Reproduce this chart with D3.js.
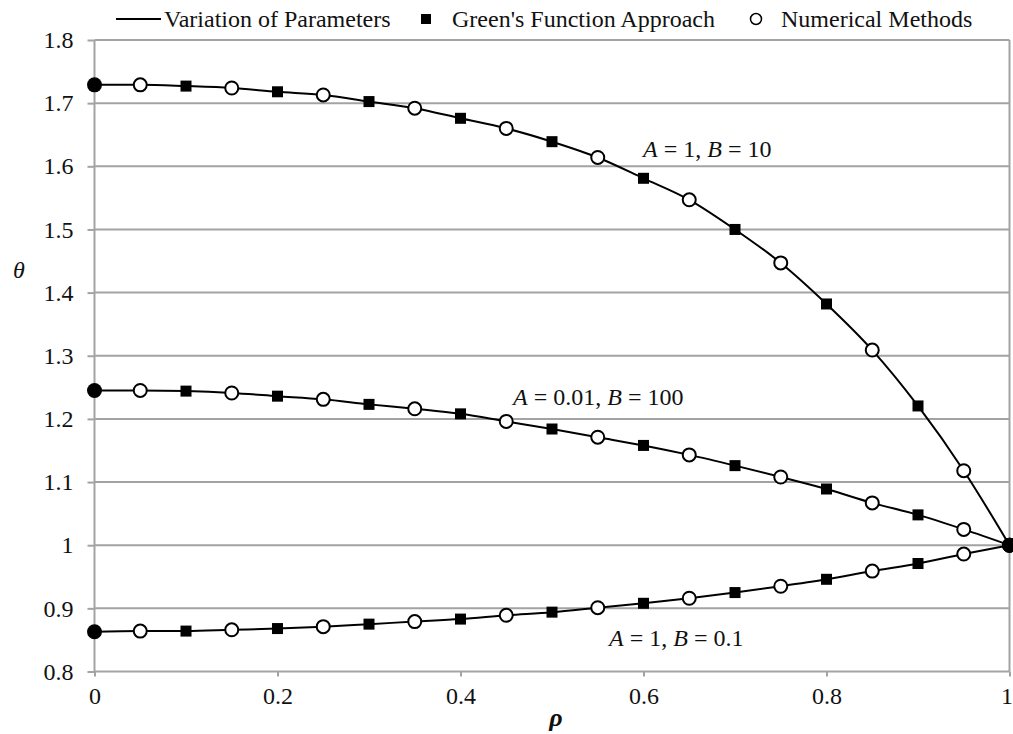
<!DOCTYPE html>
<html>
<head>
<meta charset="utf-8">
<script src="https://cdn.jsdelivr.net/npm/d3@7"></script>
<style>
  html, body { margin: 0; padding: 0; background: #fff; }
  svg { display: block; }
  svg text { font-family: "Liberation Serif", "Tinos", "Times New Roman", "DejaVu Serif", serif; }
</style>
</head>
<body>
<svg id="chart" width="1013" height="734"></svg>
<script>
// ---- data ----
const rho = [0, 0.05, 0.1, 0.15, 0.2, 0.25, 0.3, 0.35, 0.4, 0.45, 0.5,
             0.55, 0.6, 0.65, 0.7, 0.75, 0.8, 0.85, 0.9, 0.95, 1];
const thetaA1B10 = [1.729, 1.729, 1.727, 1.724, 1.718, 1.713, 1.7025, 1.692, 1.676, 1.660, 1.639,
                    1.614, 1.581, 1.547, 1.500, 1.447, 1.382, 1.309, 1.2205, 1.118, 1.0];
const thetaA001B100 = [1.245, 1.245, 1.244, 1.241, 1.236, 1.231, 1.223, 1.216, 1.208, 1.196, 1.184,
                       1.171, 1.158, 1.143, 1.126, 1.108, 1.089, 1.067, 1.048, 1.025, 1.0];
const thetaA1B01 = [0.863, 0.864, 0.864, 0.866, 0.868, 0.871, 0.875, 0.879, 0.883, 0.889, 0.894,
                    0.901, 0.908, 0.916, 0.925, 0.935, 0.946, 0.959, 0.971, 0.986, 1.0];
const seriesLabels = ["A = 1, B = 10", "A = 0.01, B = 100", "A = 1, B = 0.1"];
const greensRho = [0.1, 0.2, 0.3, 0.4, 0.5, 0.6, 0.7, 0.8, 0.9];
const numericalRho = [0.05, 0.15, 0.25, 0.35, 0.45, 0.55, 0.65, 0.75, 0.85, 0.95];
const boundaryRho = [0, 1];
const xTicks = [0, 0.2, 0.4, 0.6, 0.8, 1];
const yTicks = [0.8, 0.9, 1, 1.1, 1.2, 1.3, 1.4, 1.5, 1.6, 1.7, 1.8];
const legendItems = ["Variation of Parameters", "Green's Function Approach", "Numerical Methods"];

// ---- layout ----
const svg = d3.select("#chart");
const x = d3.scaleLinear().domain([0, 1]).range([94.5, 1009.5]);
const y = d3.scaleLinear().domain([0.8, 1.8]).range([671.5, 40]);
const gridColor = "#a3a3a3";
const fmt = d => String(+d.toFixed(1));

// horizontal gridlines
svg.append("g").selectAll("line").data(yTicks).join("line")
  .attr("x1", x(0)).attr("x2", x(1))
  .attr("y1", d => y(d)).attr("y2", d => y(d))
  .attr("stroke", gridColor).attr("stroke-width", 2);

// left & right vertical borders
svg.append("g").selectAll("line").data([0, 1]).join("line")
  .attr("x1", d => x(d)).attr("x2", d => x(d))
  .attr("y1", y(1.8)).attr("y2", y(0.8))
  .attr("stroke", gridColor).attr("stroke-width", 2);

// y axis
const yAxis = d3.axisLeft(y).tickValues(yTicks).tickSize(7).tickPadding(14).tickFormat(fmt);
const gy = svg.append("g").attr("transform", `translate(${x(0)},0)`).call(yAxis);
gy.attr("font-family", null).attr("font-size", null);
gy.select(".domain").remove();
gy.selectAll(".tick line").attr("stroke", gridColor).attr("stroke-width", 2);
gy.selectAll(".tick text").attr("font-size", 24).attr("fill", "#111");

// x axis
const xAxis = d3.axisBottom(x).tickValues(xTicks).tickSize(5).tickPadding(10).tickFormat(fmt);
const gx = svg.append("g").attr("transform", `translate(0,${y(0.8)})`).call(xAxis);
gx.attr("font-family", null).attr("font-size", null);
gx.select(".domain").remove();
gx.selectAll(".tick line").attr("stroke", gridColor).attr("stroke-width", 2);
gx.selectAll(".tick text").attr("font-size", 24).attr("fill", "#111")
  .attr("dx", d => d === 1 ? -3 : 0);

// axis titles
svg.append("text").attr("x", 556).attr("y", 726).attr("text-anchor", "middle")
  .attr("font-size", 26).attr("font-style", "italic").attr("font-weight", "bold")
  .attr("fill", "#111").text("ρ");
svg.append("text").attr("x", 19).attr("y", 278).attr("text-anchor", "middle")
  .attr("font-size", 24).attr("font-style", "italic")
  .attr("fill", "#111").text("θ");

// curves
const allSeries = [thetaA1B10, thetaA001B100, thetaA1B01];
const line = d3.line().x(d => x(d[0])).y(d => y(d[1])).curve(d3.curveMonotoneX);
allSeries.forEach(vals => {
  const pts = rho.map((r, i) => [r, vals[i]]);
  svg.append("path").datum(pts).attr("d", line)
    .attr("fill", "none").attr("stroke", "#000").attr("stroke-width", 2);
});

// markers
const idx = r => rho.findIndex(v => Math.abs(v - r) < 1e-9);
allSeries.forEach(vals => {
  const g = svg.append("g");
  g.selectAll("rect").data(greensRho).join("rect")
    .attr("x", r => x(r) - 5.5).attr("y", r => y(vals[idx(r)]) - 5.5)
    .attr("width", 11).attr("height", 11).attr("fill", "#000");
  g.selectAll("circle.num").data(numericalRho).join("circle").attr("class", "num")
    .attr("cx", r => x(r)).attr("cy", r => y(vals[idx(r)])).attr("r", 6.5)
    .attr("fill", "#fff").attr("stroke", "#000").attr("stroke-width", 2);
  g.selectAll("circle.bnd").data(boundaryRho).join("circle").attr("class", "bnd")
    .attr("cx", r => x(r)).attr("cy", r => y(vals[idx(r)])).attr("r", 7.5)
    .attr("fill", "#000");
});

// series annotations
const annPos = [[643, 157], [513, 405], [609, 646]];
seriesLabels.forEach((lab, i) => {
  const t = svg.append("text").attr("x", annPos[i][0]).attr("y", annPos[i][1])
    .attr("font-size", 24).attr("fill", "#111");
  const parts = lab.match(/^(A)( = [^,]+, )(B)( = .+)$/);
  t.append("tspan").attr("font-style", "italic").text(parts[1]);
  t.append("tspan").text(parts[2].replace(/ /g, "\u00a0"));
  t.append("tspan").attr("font-style", "italic").text(parts[3]);
  t.append("tspan").text(parts[4].replace(/ /g, "\u00a0"));
});

// legend
const lg = svg.append("g");
lg.append("line").attr("x1", 116).attr("x2", 161).attr("y1", 19).attr("y2", 19)
  .attr("stroke", "#000").attr("stroke-width", 2);
lg.append("rect").attr("x", 421).attr("y", 14).attr("width", 10).attr("height", 10).attr("fill", "#000");
lg.append("circle").attr("cx", 756).attr("cy", 19).attr("r", 5.5)
  .attr("fill", "#fff").attr("stroke", "#000").attr("stroke-width", 1.5);
const legendX = [164, 452, 781];
lg.selectAll("text").data(legendItems).join("text")
  .attr("x", (d, i) => legendX[i]).attr("y", 27)
  .attr("font-size", 24).attr("fill", "#111").text(d => d);
</script>
</body>
</html>
